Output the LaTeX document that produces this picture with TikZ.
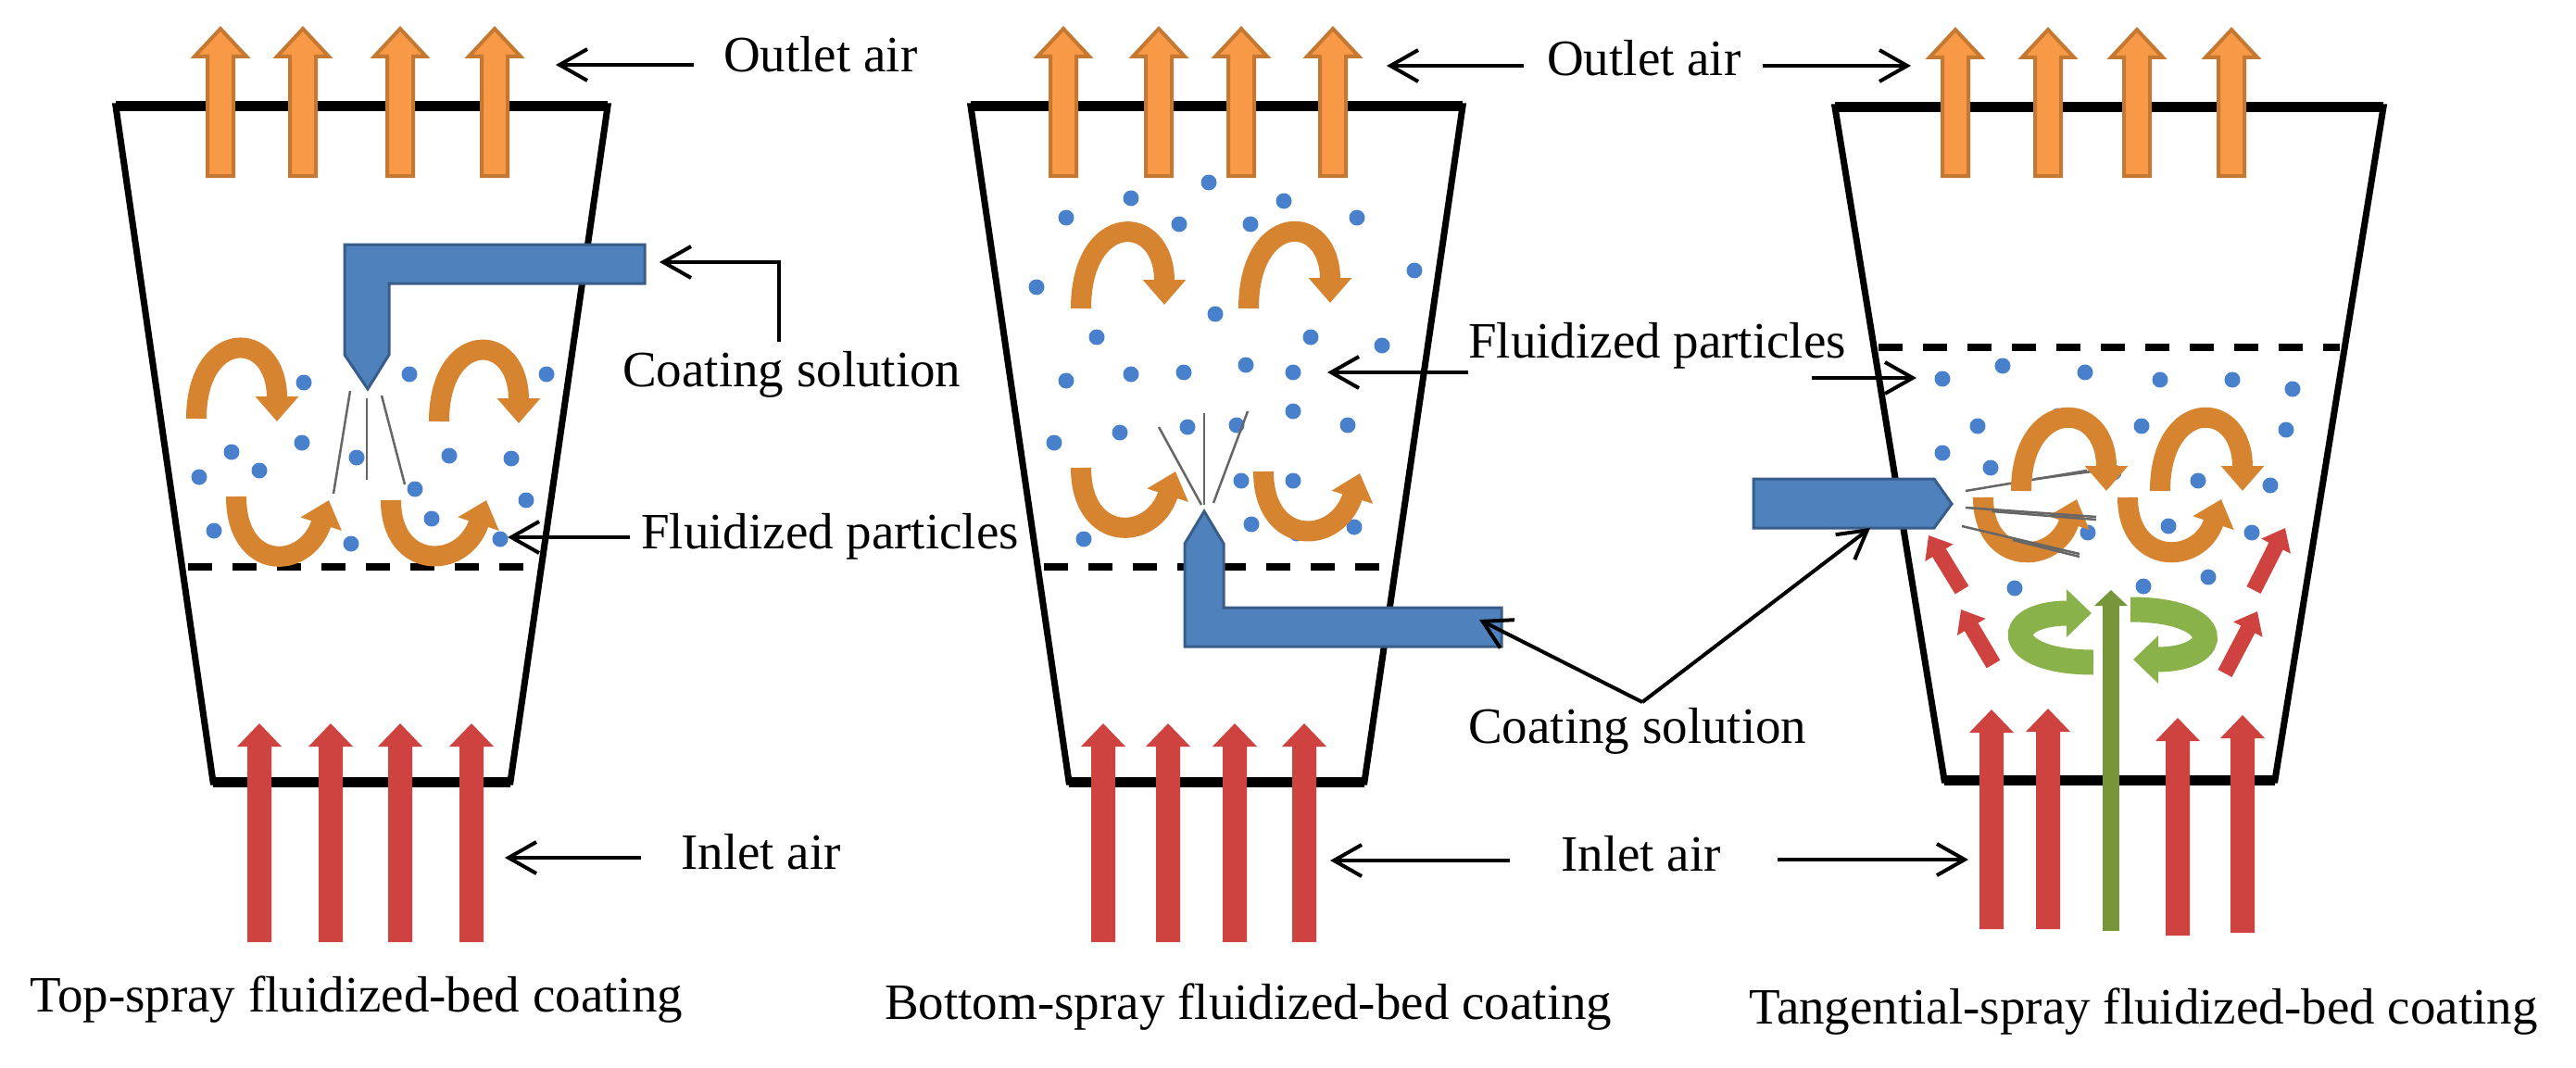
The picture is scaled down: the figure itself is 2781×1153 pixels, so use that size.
\documentclass[tikz,border=0pt]{standalone}
\usepackage{fontspec}
\setmainfont{Liberation Serif}
\usetikzlibrary{arrows.meta}
\definecolor{orfill}{RGB}{247,153,70}
\definecolor{ordraw}{RGB}{196,120,50}
\definecolor{arcor}{RGB}{214,132,48}
\definecolor{redar}{RGB}{206,66,63}
\definecolor{blnoz}{RGB}{79,129,189}
\definecolor{blnozd}{RGB}{56,93,138}
\definecolor{dotbl}{RGB}{72,128,204}
\definecolor{grn}{RGB}{119,150,60}
\definecolor{grnl}{RGB}{137,178,74}
\newcommand{\blockup}[7]{%
  \path[#7] (#1-#5,#3) -- (#1-#5,#2+#6) -- (#1-#4,#2+#6) -- (#1,#2) -- (#1+#4,#2+#6) -- (#1+#5,#2+#6) -- (#1+#5,#3) -- cycle;}
\begin{document}
\begin{tikzpicture}[x=1pt,y=-1pt,
  wall/.style={line width=7pt, line join=miter},
  rim/.style={line width=11pt},
  bedline/.style={line width=8pt, dash pattern=on 26pt off 22pt},
  ptr/.style={line width=4pt, -{Straight Barb[length=30pt,width=34pt]}},
  lbl/.style={font=\fontsize{55}{60}\selectfont, inner sep=0pt, anchor=base west},
  dot/.style={fill=dotbl},
  outarr/.style={fill=orfill, draw=ordraw, line width=4pt, line join=miter},
  inarr/.style={fill=redar},
  circ/.style={draw=arcor, line width=22pt, -{Triangle[length=27pt,width=45pt]}},
  nozzle/.style={fill=blnoz, draw=blnozd, line width=3pt, line join=miter},
  spray/.style={draw=black!60, line width=2.5pt},
  gcirc/.style={draw=grnl, line width=27pt, -{Triangle[length=27pt,width=50pt]}},
  rtilt/.style={draw=redar, line width=17pt, -{Triangle[length=22pt,width=34pt]}},
]
\fill[white] (0,0) rectangle (2781,1153);
\useasboundingbox (0,0) rectangle (2781,1153);

% ---------- vessels ----------
\draw[wall] (125,115) -- (230,844) -- (551,844) -- (656,115) -- cycle;
\draw[rim] (125,115) -- (656,115); \draw[rim] (230,844) -- (551,844);
\draw[wall] (1048,115) -- (1154,844) -- (1473,844) -- (1579,115) -- cycle;
\draw[rim] (1048,115) -- (1579,115); \draw[rim] (1154,844) -- (1473,844);
\draw[wall] (1981,116) -- (2099,842) -- (2456,842) -- (2573,116) -- cycle;
\draw[rim] (1981,116) -- (2573,116); \draw[rim] (2099,842) -- (2456,842);

% bed lines
\draw[bedline] (203,612) -- (580,612);
\draw[bedline] (1127,612) -- (1503,612);
\draw[bedline] (2028,375) -- (2526,375);

% ---------- particles ----------
\foreach \p in {(328,413),(442,404),(590,404),(250,488),(326,478),(215,515),(280,508),(385,494),(485,492),(552,495),(448,528),(568,540),(231,573),(466,560),(379,587),(540,582)}
  {\fill[dot] \p circle[radius=8.5pt];}
\foreach \p in {(1305,197),(1221,214),(1386,217),(1151,235),(1273,242),(1350,242),(1465,235),(1119,310),(1527,292),(1312,339),(1184,364),(1415,364),(1492,373),(1151,411),(1221,404),(1278,402),(1345,394),(1396,402),(1396,444),(1455,459),(1138,478),(1209,467),(1282,461),(1335,459),(1340,519),(1396,519),(1351,566),(1400,576),(1462,569),(1170,582)}
  {\fill[dot] \p circle[radius=8.5pt];}
\foreach \p in {(2097,409),(2162,395),(2251,402),(2332,410),(2410,410),(2475,420),(2135,460),(2222,449),(2312,460),(2468,464),(2097,489),(2149,505),(2282,510),(2373,519),(2451,524),(2254,575),(2341,568),(2431,575),(2175,635),(2314,633),(2384,623)}
  {\fill[dot] \p circle[radius=8.5pt];}

% upper spray lines of the tangential nozzle (behind the circulation)
\draw[spray] (2122,530) -- (2253,508);
\draw[spray] (2198,517) -- (2266,508);

% ---------- circulation arrows ----------
\draw[circ] (212,452) .. controls (212,354) and (299,354) .. (299,455);
\draw[circ] (474,455) .. controls (474,356) and (560,356) .. (560,457);
\draw[circ] (255,536) .. controls (255,617) and (330,617) .. (355,540);
\draw[circ] (422,540) .. controls (422,616) and (500,616) .. (525,540);

\draw[circ] (1167,333) .. controls (1167,228) and (1257,228) .. (1257,329);
\draw[circ] (1348,333) .. controls (1348,228) and (1436,228) .. (1436,327);
\draw[circ] (1167,505) .. controls (1167,586) and (1244,586) .. (1269,509);
\draw[circ] (1364,509) .. controls (1364,590) and (1443,590) .. (1468,511);

\draw[circ] (2182,530) .. controls (2182,429) and (2274,429) .. (2274,530);
\draw[circ] (2332,530) .. controls (2332,429) and (2421,429) .. (2421,530);
\draw[circ] (2141,537) .. controls (2141,611) and (2218,611) .. (2242,539);
\draw[circ] (2297,537) .. controls (2297,611) and (2374,611) .. (2398,539);

% ---------- sprays ----------
\draw[spray] (378,422) -- (360,533);
\draw[spray] (396,430) -- (396,518);
\draw[spray] (412,427) -- (437,523);
\draw[spray] (1297,545) -- (1251,461);
\draw[spray] (1300,545) -- (1300,446);
\draw[spray] (1310,543) -- (1347,444);
\draw[spray] (2122,548) -- (2263,558);
\draw[spray] (2150,552) -- (2263,561);
\draw[spray] (2118,568) -- (2245,598);
\draw[spray] (2173,583) -- (2245,601);

% ---------- nozzles ----------
\draw[nozzle] (372,264) -- (696,264) -- (696,306) -- (420,306) -- (420,383) -- (397,420) -- (372,383) -- cycle;
\draw[nozzle] (1300,552) -- (1321,587) -- (1321,656) -- (1621,656) -- (1621,698) -- (1279,698) -- (1279,587) -- cycle;
\draw[nozzle] (1893,517) -- (2088,517) -- (2107,544) -- (2088,570) -- (1893,570) -- cycle;

% ---------- air arrows ----------
\foreach \x in {238,327,432,534,1148,1251,1340,1439}
  {\blockup{\x}{31}{190}{28}{14}{30}{outarr}}
\foreach \x in {2111,2211,2307,2409}
  {\blockup{\x}{32}{190}{28}{14}{30}{outarr}}
\foreach \x in {280,357,432,509,1191,1261,1333,1408}
  {\blockup{\x}{781}{1017}{24}{13}{25}{inarr}}
\blockup{2150}{766}{1003}{24}{13}{25}{inarr}
\blockup{2211}{765}{1003}{24}{13}{25}{inarr}
\blockup{2351}{775}{1010}{24}{13}{25}{inarr}
\blockup{2421}{772}{1007}{24}{13}{25}{inarr}

% tangential: tilted red arrows and green swirl
\draw[rtilt] (2118,637) -- (2082,578);
\draw[rtilt] (2152,717) -- (2117,658);
\draw[rtilt] (2433,637) -- (2467,570);
\draw[rtilt] (2402,727) -- (2437,660);
\draw[gcirc] (2260,715) .. controls (2160,715) and (2160,662) .. (2258,662);
\draw[gcirc] (2300,658) .. controls (2402,658) and (2402,712) .. (2303,712);
\draw[draw=grn, line width=18pt, -{Triangle[length=17pt,width=35pt]}] (2279,1005) -- (2279,637);

% ---------- labels ----------
\node[lbl] (outL) at (781,78) {Outlet air};
\node[lbl] (coatL) at (672,417) {Coating solution};
\node[lbl] (fluL) at (692,592) {Fluidized particles};
\node[lbl] (inL) at (735,938) {Inlet air};
\node[lbl] (capL) at (32,1092) {Top-spray fluidized-bed coating};
\node[lbl] (outM) at (1670,82) {Outlet air};
\node[lbl] (fluM) at (1585,386) {Fluidized particles};
\node[lbl] (coatM) at (1585,802) {Coating solution};
\node[lbl] (inM) at (1685,940) {Inlet air};
\node[lbl] (capM) at (955,1100) {Bottom-spray fluidized-bed coating};
\node[lbl] (capR) at (1888,1105) {Tangential-spray fluidized-bed coating};

% ---------- pointers ----------
\coordinate (pOL1) at (749,70);  \coordinate (tOL) at (600,70);
\coordinate (pCL1) at (841,369); \coordinate (pCL2) at (841,283); \coordinate (tCL) at (712,283);
\coordinate (pFL1) at (680,580); \coordinate (tFL) at (548,580);
\coordinate (pIL1) at (692,926); \coordinate (tIL) at (545,926);
\coordinate (pOM1) at (1645,71); \coordinate (tOM) at (1497,71);
\coordinate (pOM2) at (1903,71); \coordinate (tOR) at (2063,71);
\coordinate (pFM1) at (1585,402); \coordinate (tFM) at (1433,402);
\coordinate (pFM2) at (1956,408); \coordinate (tFR) at (2069,408);
\coordinate (apex) at (1773,758); \coordinate (tCM) at (1597,669); \coordinate (tCR) at (2019,570);
\coordinate (pIM1) at (1630,929); \coordinate (tIM) at (1436,929);
\coordinate (pIM2) at (1919,928); \coordinate (tIR) at (2125,928);

\draw[ptr] (pOL1) -- (tOL);
\draw[ptr] (pCL1) -- (pCL2) -- (tCL);
\draw[ptr] (pFL1) -- (tFL);
\draw[ptr] (pIL1) -- (tIL);
\draw[ptr] (pOM1) -- (tOM);
\draw[ptr] (pOM2) -- (tOR);
\draw[ptr] (pFM1) -- (tFM);
\draw[ptr] (pFM2) -- (tFR);
\draw[ptr] (apex) -- (tCM);
\draw[ptr] (apex) -- (tCR);
\draw[ptr] (pIM1) -- (tIM);
\draw[ptr] (pIM2) -- (tIR);
\end{tikzpicture}
\end{document}
